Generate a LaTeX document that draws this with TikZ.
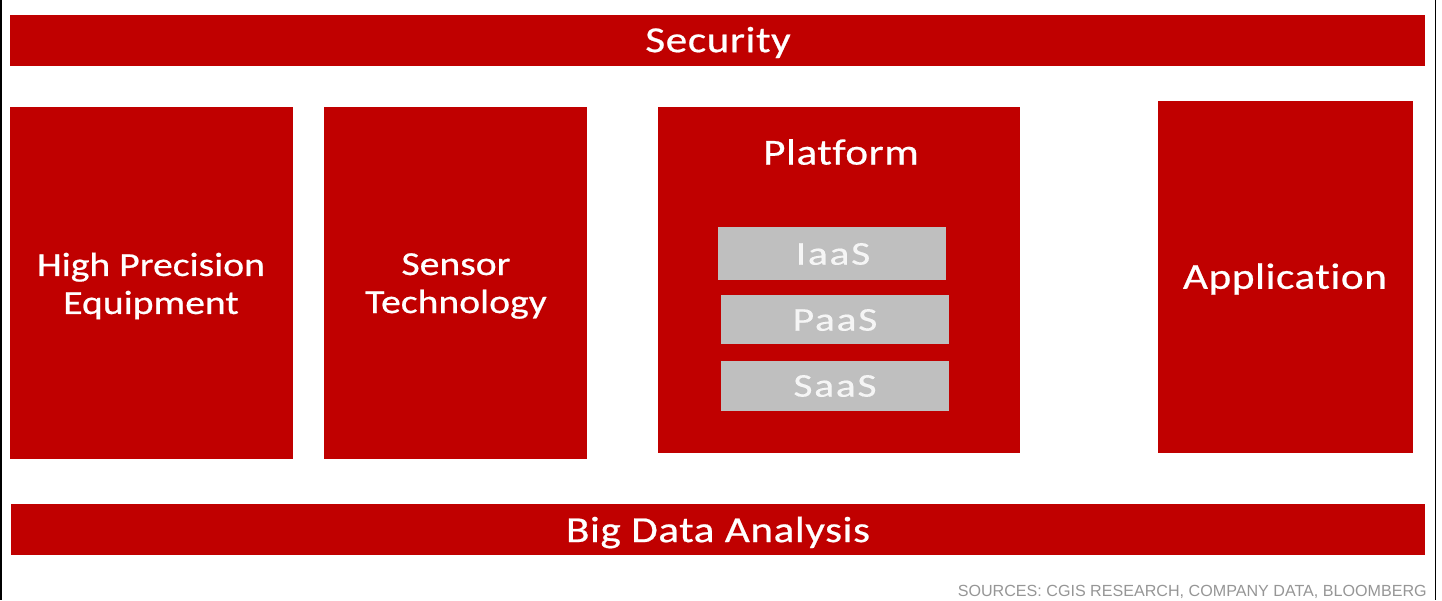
\documentclass[tikz,border=0pt]{standalone}
\usepackage{fontspec}
\setmainfont{Carlito}
\newfontfamily\srcfont{Liberation Sans}
\newfontfamily\widefont[FakeStretch=1.18,FakeBold=0.6,LetterSpace=1.5,Ligatures={NoCommon}]{Carlito}
\newfontfamily\midfont[FakeStretch=1.18,FakeBold=0.6,Ligatures={NoCommon}]{Carlito}
\newfontfamily\slabfont[FakeStretch=1.25,FakeBold=0.4,LetterSpace=5]{Carlito}
\definecolor{brick}{RGB}{192,0,0}
\definecolor{slab}{RGB}{191,191,191}
\definecolor{srcgrey}{RGB}{150,150,150}
\tikzset{
  px/.style={x=0.75pt,y=-0.75pt},
  redbox/.style={fill=brick,draw=none},
  greybox/.style={fill=slab,draw=none},
  bigtext/.style={text=white,font=\widefont\fontsize{27.5pt}{29pt}\selectfont,align=center,inner sep=0pt},
  midtext/.style={text=white,font=\midfont\fontsize{25.2pt}{28.5pt}\selectfont,align=center,inner sep=0pt},
  slabtext/.style={text=white,text opacity=0.85,font=\slabfont\fontsize{25pt}{28pt}\selectfont,inner sep=0pt},
}
\begin{document}
\begin{tikzpicture}[px]
\useasboundingbox (0,0) rectangle (1442,600);
\fill[white] (0,0) rectangle (1442,600);
\fill[black] (0,0) rectangle (1.5,600);
\fill[black] (1434.5,0) rectangle (1436,600);
\fill[redbox] (10,14.5) rectangle (1424.5,65.5);
\fill[redbox] (11,504) rectangle (1424.5,555);
\fill[redbox] (10,106.5) rectangle (293,458.5);
\fill[redbox] (324,106.5) rectangle (587,458.5);
\fill[redbox] (657.5,106.5) rectangle (1020,452.5);
\fill[redbox] (1158,101) rectangle (1412.5,452.5);
\fill[greybox] (718,226.5) rectangle (946,280);
\fill[greybox] (721,294.5) rectangle (949,344);
\fill[greybox] (721,360.5) rectangle (949,410.5);
\node[bigtext] (security) at (718,42.5) {Security};
\node[bigtext] (bigdata) at (718,532.5) {Big Data Analysis};
\node[midtext] (hpe) at (151,286) {High Precision\\Equipment};
\node[midtext] (sensor) at (456,286) {Sensor\\Technology};
\node[bigtext] (platform) at (841,152) {Platform};
\node[bigtext] (app) at (1285,279) {Application};
\node[slabtext] (iaas) at (833,254) {IaaS};
\node[slabtext] (paas) at (835,320) {PaaS};
\node[slabtext] (saas) at (835,386) {SaaS};
\node[anchor=base east,inner sep=0pt,text=srcgrey,font=\srcfont\fontsize{12.08pt}{14pt}\selectfont] (src) at (1427,596) {SOURCES: CGIS RESEARCH, COMPANY DATA, BLOOMBERG};
\end{tikzpicture}
\end{document}
